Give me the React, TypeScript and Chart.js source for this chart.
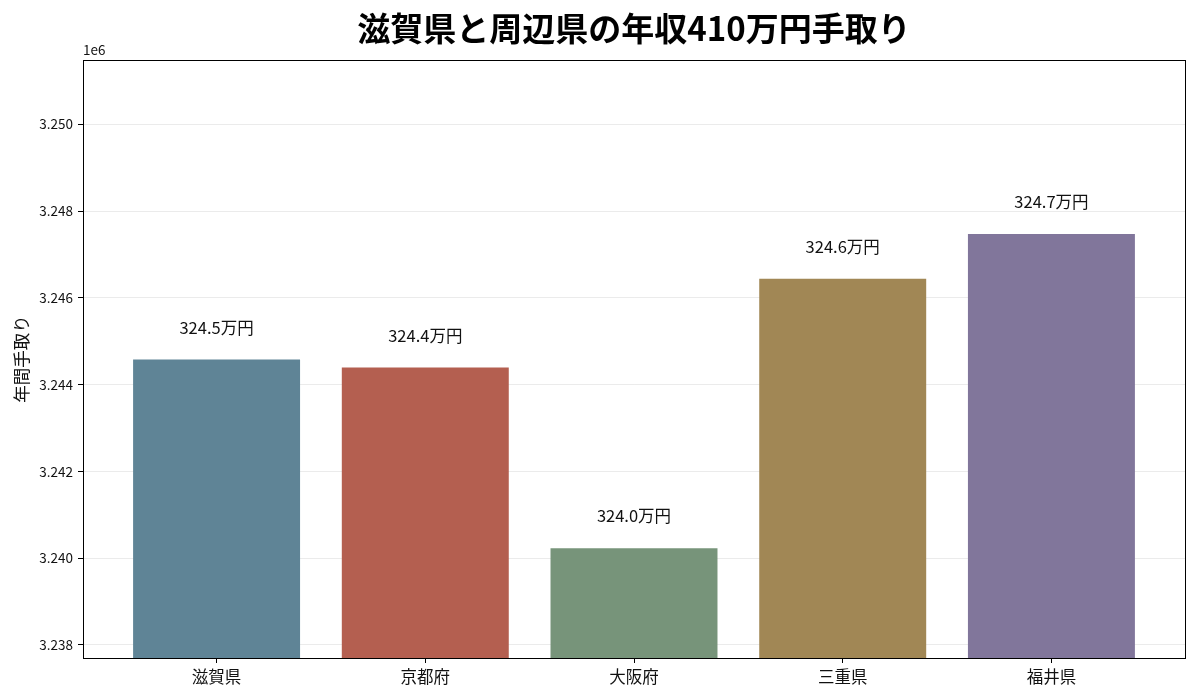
import { useEffect, useRef } from "react"
import { Chart, registerables } from "chart.js"

Chart.register(...registerables)

const FONT = "'Noto Sans CJK JP', 'Noto Sans', sans-serif"

// prefectures and annual take-home pay (yen)
const prefectures = ["滋賀県", "京都府", "大阪府", "三重県", "福井県"]
const takeHome = [3244577, 3244392, 3240231, 3246438, 3247469]
const barColors = ["#5f8496", "#b45f50", "#77947a", "#a18755", "#81769b"]

// y axis range and tick values
const yMin = 3237700
const yMax = 3251480
const yTicks = [3238000, 3240000, 3242000, 3244000, 3246000, 3248000, 3250000]

const chartTitle = "滋賀県と周辺県の年収410万円手取り"

const frameAndLabels = {
  id: "frameAndLabels",
  afterDatasetsDraw(chart: Chart) {
    const { ctx } = chart
    const meta = chart.getDatasetMeta(0)
    ctx.save()
    ctx.font = `16.5px ${FONT}`
    ctx.fillStyle = "#111"
    ctx.textAlign = "center"
    ctx.textBaseline = "middle"
    meta.data.forEach((bar, i) => {
      const label = (takeHome[i] / 10000).toFixed(1) + "万円"
      ctx.fillText(label, bar.x, bar.y - 32)
    })
    ctx.restore()
  },
  afterDraw(chart: Chart) {
    const { ctx, chartArea } = chart
    ctx.save()
    ctx.strokeStyle = "#000"
    ctx.lineWidth = 1
    ctx.strokeRect(
      Math.round(chartArea.left) + 0.5,
      Math.round(chartArea.top) + 0.5,
      Math.round(chartArea.right - chartArea.left),
      Math.round(chartArea.bottom - chartArea.top)
    )
    // scale multiplier
    ctx.font = `13.5px ${FONT}`
    ctx.fillStyle = "#111"
    ctx.textAlign = "left"
    ctx.textBaseline = "bottom"
    ctx.fillText("1e6", chartArea.left, chartArea.top - 3)
    // title centred over the plot area
    ctx.font = `bold 33px ${FONT}`
    ctx.fillStyle = "#000"
    ctx.textAlign = "center"
    ctx.textBaseline = "middle"
    ctx.fillText(chartTitle, (chartArea.left + chartArea.right) / 2, chartArea.top - 32)
    ctx.restore()
  },
}

export default function App() {
  const chartRef = useRef<HTMLCanvasElement>(null)
  const chartInstance = useRef<Chart | null>(null)

  useEffect(() => {
    document.body.style.margin = "0"
    if (!chartRef.current) return
    if (chartInstance.current) chartInstance.current.destroy()
    const ctx = chartRef.current.getContext("2d")
    if (!ctx) return

    chartInstance.current = new Chart(ctx, {
      type: "bar",
      data: {
        datasets: [
          {
            label: "年間手取り",
            data: takeHome.map((v, i) => ({ x: i, y: v })),
            backgroundColor: barColors,
            borderWidth: 0,
            barPercentage: 0.8,
            categoryPercentage: 1,
          },
        ],
      },
      options: {
        animation: false,
        responsive: true,
        maintainAspectRatio: false,
        layout: { padding: { left: 0, right: 15, top: 60, bottom: 0 } },
        plugins: {
          legend: { display: false },
          tooltip: { enabled: false },
          title: { display: false },
        },
        scales: {
          x: {
            type: "linear",
            bounds: "data",
            min: -0.64,
            max: 4.64,
            offset: false,
            afterBuildTicks: (scale: any) => {
              scale.ticks = prefectures.map((_, i) => ({ value: i }))
            },
            afterFit: (scale: any) => {
              scale.height = 42
            },
            grid: {
              display: true,
              offset: false,
              drawOnChartArea: false,
              tickLength: 5,
              color: "#000",
            },
            border: { display: true, color: "#000" },
            ticks: {
              autoSkip: false,
              maxRotation: 0,
              padding: 4,
              color: "#111",
              font: { family: FONT, size: 16.5 },
              callback: (v: any) => prefectures[v] ?? "",
            },
          },
          y: {
            bounds: "data",
            min: yMin,
            max: yMax,
            z: 1,
            afterBuildTicks: (scale: any) => {
              scale.ticks = yTicks.map((v) => ({ value: v }))
            },
            afterFit: (scale: any) => {
              scale.width = 83
            },
            grid: {
              color: "rgba(176,176,176,0.25)",
              tickColor: "#000",
              tickLength: 5,
            },
            border: { display: true, color: "#000" },
            title: {
              display: true,
              text: "年間手取り",
              color: "#111",
              font: { family: FONT, size: 17.5 },
              padding: { top: 11, bottom: 0 },
            },
            ticks: {
              padding: 5,
              color: "#111",
              font: { family: FONT, size: 13.5 },
              callback: (v: any) => (Number(v) / 1e6).toFixed(3),
            },
          },
        },
      },
      plugins: [frameAndLabels],
    })

    return () => {
      if (chartInstance.current) {
        chartInstance.current.destroy()
        chartInstance.current = null
      }
    }
  }, [])

  return (
    <div style={{ width: 1200, height: 700, position: "relative" }}>
      <canvas ref={chartRef}></canvas>
    </div>
  )
}
